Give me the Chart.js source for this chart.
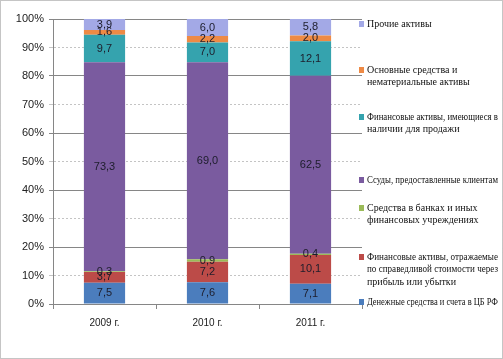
<!DOCTYPE html>
<html>
<head>
<meta charset="utf-8">
<script src="https://cdn.jsdelivr.net/npm/chart.js@4/dist/chart.umd.min.js"></script>
<style>
  html, body { margin: 0; padding: 0; background: #fff; }
  #wrap { width: 503px; height: 359px; position: relative; }
</style>
</head>
<body>
<div id="wrap"><canvas id="chart" width="503" height="359"></canvas></div>
<script>
// categories
const years = ['2009 г.', '2010 г.', '2011 г.'];

// series values, % of total assets (bottom of the stack first)
const cashAndCbr = [7.5, 7.6, 7.1];
const fairValueAssets = [3.7, 7.2, 10.1];
const dueFromBanks = [0.3, 0.9, 0.4];
const customerLoans = [73.3, 69.0, 62.5];
const availableForSale = [9.7, 7.0, 12.1];
const fixedAssets = [1.6, 2.2, 2.0];
const otherAssets = [3.9, 6.0, 5.8];

// legend names, one list of lines per series
const seriesNames = [
  ['Денежные средства и счета в ЦБ РФ'],
  ['Финансовые активы, отражаемые', 'по справедливой стоимости через', 'прибыль или убытки'],
  ['Средства в банках и иных', 'финансовых учреждениях'],
  ['Ссуды, предоставленные клиентам'],
  ['Финансовые активы, имеющиеся в', 'наличии для продажи'],
  ['Основные средства и', 'нематериальные активы'],
  ['Прочие активы']
];

// y axis tick labels
const yTicks = [0, 10, 20, 30, 40, 50, 60, 70, 80, 90, 100];

const seriesValues = [cashAndCbr, fairValueAssets, dueFromBanks, customerLoans, availableForSale, fixedAssets, otherAssets];
const colors = ['#4b7dbd', '#bc4b48', '#9bbb59', '#7a5b9f', '#35a3ae', '#ee8a45', '#a3a9e6'];
// legend rows (y of the first line)
const legendY = [302, 257, 208, 180, 117, 70, 24];

// 100% stacked: share of each year's total
const totals = years.map((_, j) => seriesValues.reduce((s, arr) => s + arr[j], 0));

const datasets = seriesValues.map((vals, i) => ({
  label: seriesNames[i].join(' '),
  data: vals.map((v, j) => v / totals[j] * 100),
  raw: vals,
  backgroundColor: colors[i],
  borderWidth: 0,
  barPercentage: 0.4,
  categoryPercentage: 1
}));

const frame = {
  id: 'frame',
  beforeDraw(chart) {
    const ctx = chart.ctx;
    ctx.save();
    ctx.fillStyle = '#fff';
    ctx.fillRect(0, 0, chart.width, chart.height);
    ctx.restore();
  },
  afterDraw(chart) {
    const ctx = chart.ctx;
    ctx.save();
    ctx.strokeStyle = '#8a8a8a';
    ctx.setLineDash([1, 1]);
    ctx.strokeRect(0.5, 0.5, chart.width - 1, chart.height - 1);
    ctx.restore();
  }
};

// values written in the middle of every segment
const segmentLabels = {
  id: 'segmentLabels',
  afterDatasetsDraw(chart) {
    const ctx = chart.ctx;
    ctx.save();
    ctx.font = '11px "Liberation Sans", Arial, sans-serif';
    ctx.fillStyle = '#1d1d2b';
    ctx.textAlign = 'center';
    ctx.textBaseline = 'middle';
    chart.data.datasets.forEach((ds, i) => {
      chart.getDatasetMeta(i).data.forEach((bar, j) => {
        const txt = ds.raw[j].toFixed(1).replace('.', ',');
        ctx.fillText(txt, bar.x, (bar.y + bar.base) / 2);
      });
    });
    ctx.restore();
  }
};

// legend on the right, drawn by hand to allow wrapped names
const sideLegend = {
  id: 'sideLegend',
  afterDraw(chart) {
    const ctx = chart.ctx;
    ctx.save();
    ctx.font = '10px "Liberation Serif", "Times New Roman", serif';
    ctx.textBaseline = 'middle';
    ctx.textAlign = 'left';
    chart.data.datasets.forEach((ds, i) => {
      const y0 = legendY[i];
      ctx.fillStyle = ds.backgroundColor;
      ctx.fillRect(359, y0 - 3, 5, 6);
      ctx.fillStyle = '#111';
      seriesNames[i].forEach((line, k) => {
        ctx.fillText(line, 367, y0 + k * 12.5, 131);
      });
    });
    ctx.restore();
  }
};

new Chart(document.getElementById('chart'), {
  type: 'bar',
  data: { labels: years, datasets: datasets },
  plugins: [frame, segmentLabels, sideLegend],
  options: {
    responsive: false,
    animation: false,
    layout: { padding: { left: 0, right: 141, top: 19, bottom: 0 } },
    plugins: {
      legend: { display: false },
      tooltip: { enabled: false }
    },
    scales: {
      x: {
        stacked: true,
        afterFit: (scale) => { scale.height = 55; },
        grid: {
          drawOnChartArea: false,
          drawTicks: true,
          tickLength: 5,
          color: '#868686'
        },
        border: { color: '#868686', width: 1 },
        ticks: {
          padding: 8,
          color: '#222',
          font: { family: '"Liberation Sans", Arial, sans-serif', size: 10 }
        }
      },
      y: {
        stacked: true,
        min: 0,
        max: 100,
        afterFit: (scale) => { scale.width = 53; },
        afterBuildTicks: (scale) => { scale.ticks = yTicks.map(v => ({ value: v })); },
        grid: {
          tickLength: 4,
          color: (c) => (c.tick && c.tick.value % 20 !== 0) ? '#c4c4c4' : '#868686'
        },
        border: {
          color: '#868686',
          width: 1,
          dash: (c) => (c.tick && c.tick.value % 20 !== 0) ? [2, 2] : []
        },
        ticks: {
          padding: 5,
          color: '#222',
          font: { family: '"Liberation Sans", Arial, sans-serif', size: 11 },
          callback: (v) => v + '%'
        }
      }
    }
  }
});
</script>
</body>
</html>
